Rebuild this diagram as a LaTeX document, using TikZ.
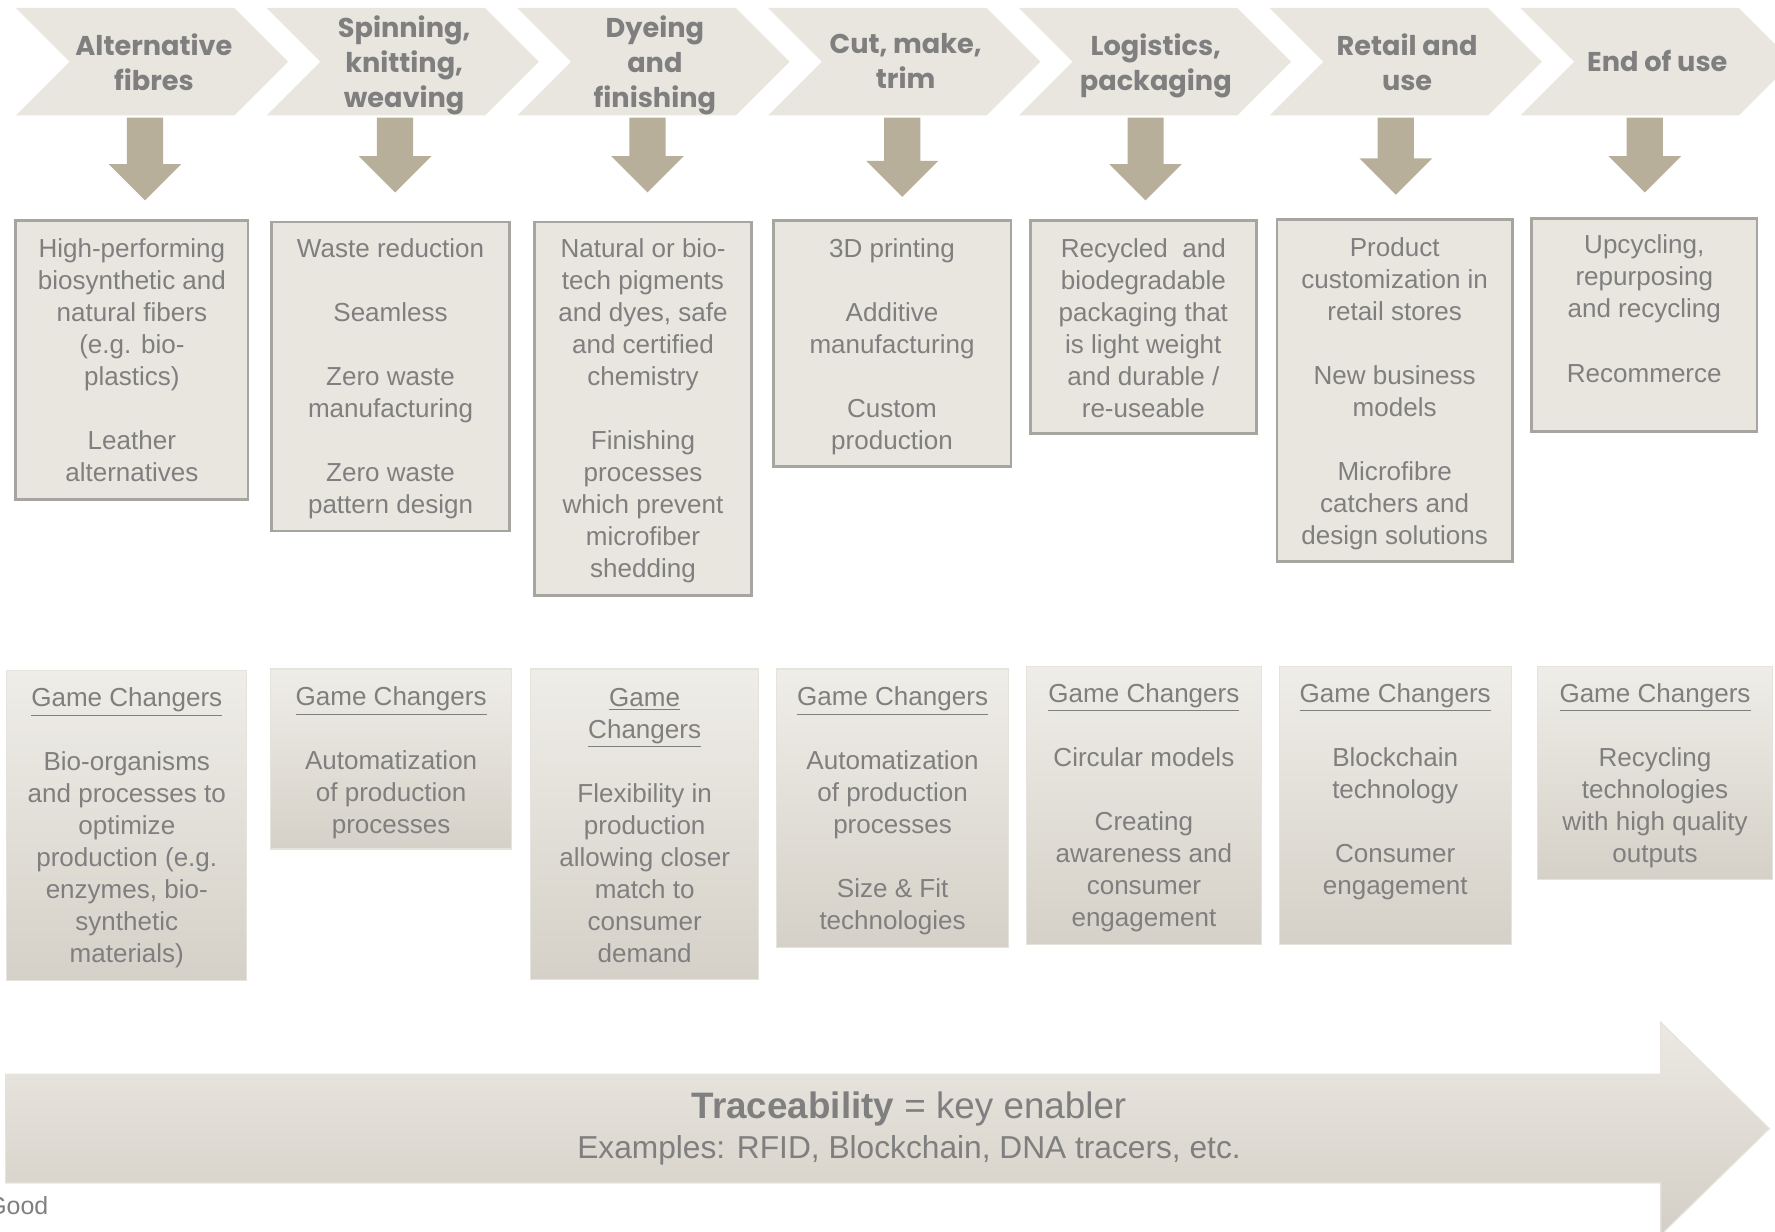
\documentclass[tikz,border=0pt]{standalone}
\usepackage{fontspec}
\setmainfont{Liberation Sans}
\newfontfamily\headfont{Poppins}
\usetikzlibrary{fit}

\definecolor{chevfill}{HTML}{E9E6DF}
\definecolor{downfill}{HTML}{B8AF9B}
\definecolor{boxfill}{HTML}{E9E6E0}
\definecolor{boxline}{HTML}{A7A59F}
\definecolor{txtgray}{HTML}{7F7F7F}
\definecolor{gtop}{HTML}{EFEDE8}
\definecolor{gbot}{HTML}{D5D1C8}
\definecolor{gline}{HTML}{E6E3DD}
\definecolor{atop}{HTML}{ECE9E3}
\definecolor{abot}{HTML}{D3CFC6}

% blank line between items inside a box
\newcommand\gap{\\[14.15pt]}
\newcommand\gcu[1]{\underline{#1}}

\tikzset{
  chevtext/.style={font=\headfont\bfseries\fontsize{12pt}{15.5pt}\selectfont,
    text=txtgray, align=center, inner sep=0pt, anchor=north, execute at begin node=\strut},
  body/.style={font=\fontsize{11.5pt}{14.15pt}\selectfont, text=txtgray,
    align=center, inner sep=0pt, anchor=north, execute at begin node=\strut},
  upbox/.style={draw=boxline, fill=boxfill, line width=1.2pt, inner sep=0pt},
  gcbox/.style={draw=gline, line width=0.5pt, top color=gtop, bottom color=gbot, inner sep=0pt},
  downarrow/.style={fill=downfill},
}

\begin{document}
\begin{tikzpicture}[x=0.5pt, y=-0.5pt]
\useasboundingbox (0,0) rectangle (1568,1088);
\clip (0,0) rectangle (1568,1088);

% process chevrons
\foreach \i in {0,...,6}{
  \pgfmathsetmacro\L{14+221.5*\i}
  \fill[chevfill] (\L,7) -- ++(193,0) -- ++(47.5,47.5) -- ++(-47.5,47.5)
    -- ++(-193,0) -- ++(47.5,-47.5) -- cycle;
}
\node[chevtext] (c1) at (136,29.3) {Alternative\\fibres};
\node[chevtext] (c2) at (357,13.3) {Spinning,\\knitting,\\weaving};
\node[chevtext] (c3) at (578.5,13.3) {Dyeing\\and\\finishing};
\node[chevtext] (c4) at (800,29.3) {Cut, make,\\trim};
\node[chevtext] (c5) at (1021,29.3) {Logistics,\\packaging};
\node[chevtext] (c6) at (1243,29.3) {Retail and\\use};
\node[chevtext] (c7) at (1464,41.3) {End of use};

% block arrows pointing down
\foreach \cx/\b/\t in {128/145/177, 349/138/170, 572/138/170, 797/142/174,
                       1012/145/177, 1233/140/172, 1453/138/170}{
  \fill[downarrow] (\cx-16,104) -- (\cx+16,104) -- (\cx+16,\b) -- (\cx+32,\b)
    -- (\cx,\t) -- (\cx-32,\b) -- (\cx-16,\b) -- cycle;
}

% innovation boxes
\node[upbox, fit={(14,195) (219,441)}] (u1) {};
\node[upbox, fit={(240,196) (450,469)}] (u2) {};
\node[upbox, fit={(472,196) (664,526)}] (u3) {};
\node[upbox, fit={(683,195) (893,412)}] (u4) {};
\node[upbox, fit={(910,195) (1110,383)}] (u5) {};
\node[upbox, fit={(1128,194) (1336,496)}] (u6) {};
\node[upbox, fit={(1353,193) (1552,381)}] (u7) {};

\node[body] (ut1) at (116.5,210.2) {High-performing\\biosynthetic and\\natural fibers\\(e.g. bio-\\plastics)\gap Leather\\alternatives};
\node[body] (ut2) at (345,210.2) {Waste reduction\gap Seamless\gap Zero waste\\manufacturing\gap Zero waste\\pattern design};
\node[body] (ut3) at (568,210.2) {Natural or bio-\\tech pigments\\and dyes, safe\\and certified\\chemistry\gap Finishing\\processes\\which prevent\\microfiber\\shedding};
\node[body] (ut4) at (788,210.2) {3D printing\gap Additive\\manufacturing\gap Custom\\production};
\node[body] (ut5) at (1010,210.2) {Recycled\ \ and\\biodegradable\\packaging that\\is light weight\\and durable /\\re-useable};
\node[body] (ut6) at (1232,209.2) {Product\\customization in\\retail stores\gap New business\\models\gap Microfibre\\catchers and\\design solutions};
\node[body] (ut7) at (1452.5,207.2) {Upcycling,\\repurposing\\and recycling\gap Recommerce};

% game changer boxes
\node[gcbox, fit={(6,592) (218,866)}] (l1) {};
\node[gcbox, fit={(239,591) (452,750)}] (l2) {};
\node[gcbox, fit={(469,591) (670,865)}] (l3) {};
\node[gcbox, fit={(686,591) (891,837)}] (l4) {};
\node[gcbox, fit={(907,589) (1114,834)}] (l5) {};
\node[gcbox, fit={(1130,589) (1335,834)}] (l6) {};
\node[gcbox, fit={(1358,589) (1566,777)}] (l7) {};

\node[body] (lt1) at (112,607.2) {\gcu{Game Changers}\gap Bio-organisms\\and processes to\\optimize\\production (e.g.\\enzymes, bio-\\synthetic\\materials)};
\node[body] (lt2) at (345.5,606.2) {\gcu{Game Changers}\gap Automatization\\of production\\processes};
\node[body] (lt3) at (569.5,607.2) {\gcu{Game}\\\gcu{Changers}\gap Flexibility in\\production\\allowing closer\\match to\\consumer\\demand};
\node[body] (lt4) at (788.5,606.2) {\gcu{Game Changers}\gap Automatization\\of production\\processes\gap Size \& Fit\\technologies};
\node[body] (lt5) at (1010.5,603.2) {\gcu{Game Changers}\gap Circular models\gap Creating\\awareness and\\consumer\\engagement};
\node[body] (lt6) at (1232.5,603.2) {\gcu{Game Changers}\gap Blockchain\\technology\gap Consumer\\engagement};
\node[body] (lt7) at (1462,603.2) {\gcu{Game Changers}\gap Recycling\\technologies\\with high quality\\outputs};

% traceability arrow
\shade[top color=atop, bottom color=abot, draw=gline, line width=0.5pt]
  (5,949) -- (1467,949) -- (1467,903) -- (1563,997) -- (1467,1091)
  -- (1467,1045) -- (5,1045) -- cycle;
\node[anchor=base, inner sep=0pt, text=txtgray, font=\fontsize{16.25pt}{19pt}\selectfont]
  (trace) at (803,988) {\textbf{Traceability} = key enabler};
\node[anchor=base, inner sep=0pt, text=txtgray, font=\fontsize{14pt}{17pt}\selectfont]
  (examples) at (803,1023) {Examples: RFID, Blockchain, DNA tracers, etc.};

\node[anchor=base east, inner sep=0pt, text=txtgray, font=\fontsize{11pt}{13pt}\selectfont]
  (source) at (43,1073) {Good};
\end{tikzpicture}
\end{document}
